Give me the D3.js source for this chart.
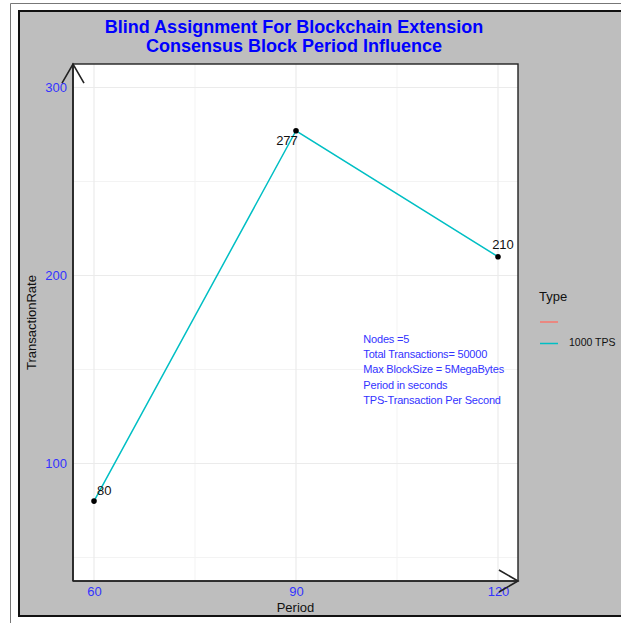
<!DOCTYPE html>
<html><head><meta charset="utf-8">
<script src="https://cdn.jsdelivr.net/npm/d3@7"></script>
<style>body{margin:0;background:#fff}svg{display:block}</style>
</head><body>
<script>
const periods = [60, 90, 120];
const rates = [80, 277, 210];
const seriesName = "1000 TPS";
const legendLabels = ["", "1000 TPS"];
const legendColors = ["#F8766D", "#00BFC4"];
const xTicks = [60, 90, 120];
const xMinor = [75, 105];
const yTicks = [100, 200, 300];
const yMinor = [50, 150, 250];
const titleLines = ["Blind Assignment For Blockchain Extension", "Consensus Block Period Influence"];
const noteLines = ["Nodes =5", "Total Transactions= 50000", "Max BlockSize = 5MegaBytes", "Period in seconds", "TPS-Transaction Per Second"];
const noteAnchor = [100, 165.7];
const labelNudge = [[3, -10], [-9, 11], [5, -11]];

const W = 621, H = 623;
const svg = d3.select("body").append("svg").attr("width", W).attr("height", H);
const font = "'Liberation Sans', Arial, sans-serif";

// outer lines
svg.append("line").attr("x1", 10.5).attr("y1", 3.5).attr("x2", 10.5).attr("y2", H).attr("stroke", "#777").attr("stroke-width", 1);
svg.append("line").attr("x1", 10.5).attr("y1", 3.5).attr("x2", W).attr("y2", 3.5).attr("stroke", "#777").attr("stroke-width", 1);
// gray background panel
svg.append("rect").attr("x", 19).attr("y", 11).attr("width", W).attr("height", 605)
  .attr("fill", "#BEBEBE").attr("stroke", "#111").attr("stroke-width", 2);

const P = {l: 73, r: 518, t: 64, b: 581};
const x = d3.scaleLinear().domain([56.88, 122.97]).range([P.l, P.r]);
const y = d3.scaleLinear().domain([37.5, 312.5]).range([P.b, P.t]);

svg.append("rect").attr("x", P.l).attr("y", P.t).attr("width", P.r - P.l).attr("height", P.b - P.t).attr("fill", "#fff");

// grid
const g = svg.append("g");
g.selectAll(".xm").data(xMinor).enter().append("line")
  .attr("x1", d => x(d)).attr("x2", d => x(d)).attr("y1", P.t).attr("y2", P.b).attr("stroke", "#F3F3F3").attr("stroke-width", 1);
g.selectAll(".ym").data(yMinor).enter().append("line")
  .attr("y1", d => y(d)).attr("y2", d => y(d)).attr("x1", P.l).attr("x2", P.r).attr("stroke", "#F3F3F3").attr("stroke-width", 1);
g.selectAll(".xM").data(xTicks).enter().append("line")
  .attr("x1", d => x(d)).attr("x2", d => x(d)).attr("y1", P.t).attr("y2", P.b).attr("stroke", "#EBEBEB").attr("stroke-width", 1.2);
g.selectAll(".yM").data(yTicks).enter().append("line")
  .attr("y1", d => y(d)).attr("y2", d => y(d)).attr("x1", P.l).attr("x2", P.r).attr("stroke", "#EBEBEB").attr("stroke-width", 1.2);

// panel border
svg.append("rect").attr("x", P.l).attr("y", P.t).attr("width", P.r - P.l).attr("height", P.b - P.t)
  .attr("fill", "none").attr("stroke", "#222").attr("stroke-width", 1.4);

// axes via d3
const xAxis = svg.append("g").attr("transform", `translate(0,${P.b})`)
  .call(d3.axisBottom(x).tickValues(xTicks).tickSize(0).tickPadding(6));
const yAxis = svg.append("g").attr("transform", `translate(${P.l},0)`)
  .call(d3.axisLeft(y).tickValues(yTicks).tickSize(0).tickPadding(6));
[xAxis, yAxis].forEach(a => {
  a.select(".domain").remove();
  a.selectAll("text").attr("fill", "#3333FF").style("font-family", font).style("font-size", "13px");
});

// axis lines with open arrows
const ax = svg.append("g").attr("stroke", "#222").attr("stroke-width", 1.6).attr("fill", "none");
ax.append("line").attr("x1", P.l).attr("y1", P.b).attr("x2", P.l).attr("y2", P.t);
ax.append("line").attr("x1", P.l).attr("y1", P.b).attr("x2", P.r).attr("y2", P.b);
const al = 22, aa = Math.PI / 6;
ax.append("path").attr("d", `M${P.l - al*Math.sin(aa)},${P.t + al*Math.cos(aa)}L${P.l},${P.t}L${P.l + al*Math.sin(aa)},${P.t + al*Math.cos(aa)}`);
ax.append("path").attr("d", `M${P.r - al*Math.cos(aa)},${P.b - al*Math.sin(aa)}L${P.r},${P.b}L${P.r - al*Math.cos(aa)},${P.b + al*Math.sin(aa)}`);

// line + points
const data = periods.map((p, i) => ({p, v: rates[i]}));
svg.append("path").datum(data)
  .attr("d", d3.line().x(d => x(d.p)).y(d => y(d.v)))
  .attr("fill", "none").attr("stroke", "#00BFC4").attr("stroke-width", 1.5);
svg.selectAll(".pt").data(data).enter().append("circle")
  .attr("cx", d => x(d.p)).attr("cy", d => y(d.v)).attr("r", 2.8).attr("fill", "#000");
svg.selectAll(".lb").data(data).enter().append("text")
  .attr("x", (d, i) => x(d.p) + labelNudge[i][0]).attr("y", (d, i) => y(d.v) + labelNudge[i][1])
  .attr("text-anchor", (d, i) => i === 0 ? "start" : "middle")
  .attr("dominant-baseline", "middle")
  .style("font-family", font).style("font-size", "13px").attr("fill", "#111")
  .text(d => d.v);

// annotation
svg.append("g").selectAll("text").data(noteLines).enter().append("text")
  .attr("x", x(noteAnchor[0])).attr("y", (d, i) => y(noteAnchor[1]) + i * 15.3)
  .attr("dominant-baseline", "middle")
  .style("font-family", font).style("font-size", "11px").style("letter-spacing", "-0.2px")
  .attr("fill", "#3333FF").text(d => d);

// title
svg.append("g").selectAll("text").data(titleLines).enter().append("text")
  .attr("x", 294).attr("y", (d, i) => 28 + i * 19)
  .attr("text-anchor", "middle").attr("dominant-baseline", "middle")
  .style("font-family", font).style("font-size", "18px").style("font-weight", "bold")
  .attr("fill", "#0000FF").text(d => d);

// axis titles
svg.append("text").attr("x", (P.l + P.r) / 2).attr("y", 609).attr("text-anchor", "middle")
  .attr("dominant-baseline", "middle").style("font-family", font).style("font-size", "13px").attr("fill", "#111").text("Period");
svg.append("text").attr("transform", `translate(33,${(P.t + P.b) / 2}) rotate(-90)`).attr("text-anchor", "middle")
  .attr("dominant-baseline", "middle").style("font-family", font).style("font-size", "13px").attr("fill", "#111").text("TransactionRate");

// legend
const lg = svg.append("g");
lg.append("text").attr("x", 539).attr("y", 298).attr("dominant-baseline", "middle")
  .style("font-family", font).style("font-size", "13px").attr("fill", "#111").text("Type");
legendLabels.forEach((lab, i) => {
  const yy = 322 + i * 21.5;
  lg.append("line").attr("x1", 540).attr("x2", 558).attr("y1", yy).attr("y2", yy)
    .attr("stroke", legendColors[i]).attr("stroke-width", 1.5);
  lg.append("text").attr("x", 569).attr("y", yy).attr("dominant-baseline", "middle")
    .style("font-family", font).style("font-size", "10.5px").attr("fill", "#111").text(lab);
});
</script>
</body></html>
